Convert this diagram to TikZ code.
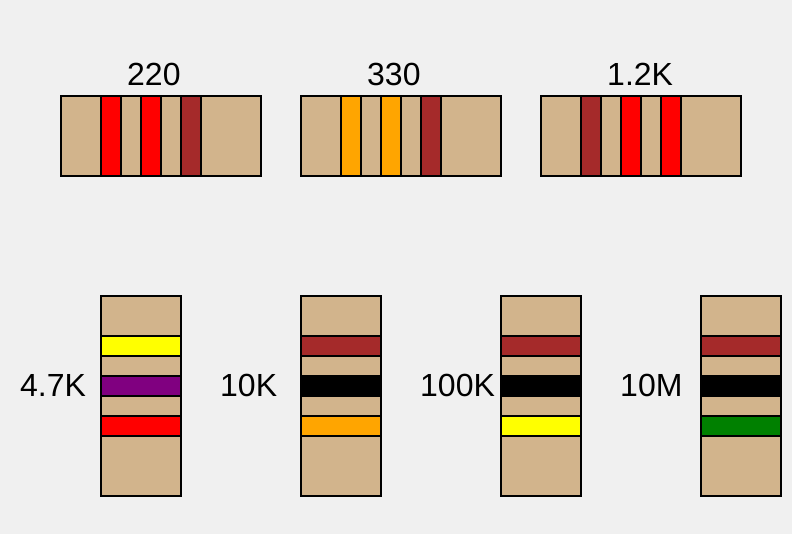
\documentclass[tikz,border=0pt]{standalone}
\usepackage{fontspec}
\setmainfont{Liberation Sans}
\definecolor{rbg}{HTML}{F0F0F0}
\definecolor{rtan}{HTML}{D2B48C}
\definecolor{rred}{HTML}{FF0000}
\definecolor{rbrown}{HTML}{A52A2A}
\definecolor{rorange}{HTML}{FFA500}
\definecolor{ryellow}{HTML}{FFFF00}
\definecolor{rpurple}{HTML}{800080}
\definecolor{rgreen}{HTML}{008000}
\begin{document}
\begin{tikzpicture}[x=1pt,y=-1pt,
  body/.style={fill=rtan,draw=black,line width=2pt},
  band/.style={draw=black,line width=2pt},
  lbl/.style={inner sep=0pt,font=\fontsize{32}{38}\selectfont}]
\fill[rbg] (0,0) rectangle (792,534);
\useasboundingbox (0,0) rectangle (792,534);
\foreach \x/\a/\b/\c/\t [count=\i] in {61/rred/rred/rbrown/220, 301/rorange/rorange/rbrown/330, 541/rbrown/rred/rred/1.2K} {
  \draw[body] (\x,96) rectangle ++(200,80);
  \draw[band,fill=\a] (\x+40,96) rectangle ++(20,80);
  \draw[band,fill=\b] (\x+80,96) rectangle ++(20,80);
  \draw[band,fill=\c] (\x+120,96) rectangle ++(20,80);
  \node[lbl,anchor=base west] (h\i) at (\x+66,86) {\t};
}
\foreach \x/\a/\b/\c/\t [count=\i] in {101/ryellow/rpurple/rred/4.7K, 301/rbrown/black/rorange/10K, 501/rbrown/black/ryellow/100K, 701/rbrown/black/rgreen/10M} {
  \draw[body] (\x,296) rectangle ++(80,200);
  \draw[band,fill=\a] (\x,336) rectangle ++(80,20);
  \draw[band,fill=\b] (\x,376) rectangle ++(80,20);
  \draw[band,fill=\c] (\x,416) rectangle ++(80,20);
  \node[lbl,anchor=base west] (v\i) at (\x-81,396) {\t};
}
\end{tikzpicture}
\end{document}
